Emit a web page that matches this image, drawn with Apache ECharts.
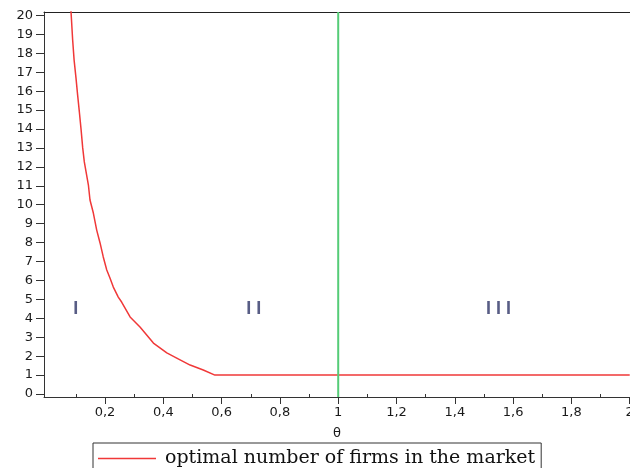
<!DOCTYPE html>
<html>
<head>
<meta charset="utf-8">
<script src="https://cdn.jsdelivr.net/npm/echarts@6/dist/echarts.min.js"></script>
<style>html,body{margin:0;padding:0;background:#fff}#c{width:630px;height:468px}</style>
</head>
<body>
<div id="c"></div>
<script>
// Data
var thetaValues = [0.083, 0.089, 0.094, 0.1005, 0.106, 0.112, 0.118, 0.1235, 0.129, 0.135, 0.143, 0.1485, 0.160, 0.1715, 0.183, 0.194, 0.206, 0.217, 0.2285, 0.2455, 0.257, 0.286, 0.320, 0.343, 0.366, 0.412, 0.446, 0.492, 0.537, 0.577, 2.0];
var firmsValues = [20.3, 18.7, 17.64, 16.69, 15.8, 14.9, 13.95, 13.0, 12.26, 11.73, 11.04, 10.25, 9.56, 8.66, 7.98, 7.24, 6.55, 6.13, 5.65, 5.12, 4.86, 4.07, 3.54, 3.12, 2.69, 2.17, 1.9, 1.53, 1.27, 1.0, 1.0];
var thresholdTheta = 1;
var regionNames = ['I', 'II', 'III'];
var regionTheta = [0.10, 0.71, 1.55];
var regionLevel = [4.5, 4.5, 4.5];
var xMajorTicks = [0.2, 0.4, 0.6, 0.8, 1, 1.2, 1.4, 1.6, 1.8, 2];
var xMinorTicks = [0.1, 0.3, 0.5, 0.7, 0.9, 1.1, 1.3, 1.5, 1.7, 1.9];
var yTicks = [0,1,2,3,4,5,6,7,8,9,10,11,12,13,14,15,16,17,18,19,20];
var seriesName = 'optimal number of firms in the market';
var xName = 'θ';

var X_MIN = -0.0093, X_MAX = 2.001, Y_MIN = -0.158, Y_MAX = 20.18;
var tickFont = {fontFamily: 'DejaVu Sans', fontSize: 13, color: '#1a1a1a'};

var curve = thetaValues.map(function (t, i) { return [t, firmsValues[i]]; });
var greenLine = [[thresholdTheta, Y_MIN], [thresholdTheta, Y_MAX]];
var regionData = regionNames.map(function (n, i) { return {name: n, value: [regionTheta[i], regionLevel[i]]}; });

var chart = echarts.init(document.getElementById('c'), null, {renderer: 'canvas'});
chart.setOption({
  animation: false,
  backgroundColor: '#ffffff',
  grid: {left: 44, right: 0, top: 12, bottom: 71, outerBoundsMode: 'none', containLabel: false},
  legend: {
    data: [{name: seriesName, icon: 'rect'}],
    left: 93, top: 443,
    padding: [6, 6, 7, 5],
    itemWidth: 58, itemHeight: 1.5,
    borderColor: '#333', borderWidth: 1,
    textStyle: {fontFamily: 'DejaVu Serif', fontSize: 19, color: '#111', padding: [0, 0, 0, 4]}
  },
  xAxis: [
    {
      type: 'value', min: X_MIN, max: X_MAX, position: 'bottom',
      name: xName, nameLocation: 'middle', nameGap: 30,
      nameTextStyle: {fontFamily: 'DejaVu Sans', fontSize: 13, color: '#1a1a1a'},
      axisLine: {show: true, onZero: false, lineStyle: {color: '#333', width: 1}},
      axisTick: {show: true, length: 7, customValues: xMajorTicks, lineStyle: {color: '#333'}},
      axisLabel: Object.assign({show: true, margin: 9, customValues: xMajorTicks,
        formatter: function (v) { return String(Math.round(v * 10) / 10).replace('.', ','); }}, tickFont),
      splitLine: {show: false}
    },
    {
      type: 'value', min: X_MIN, max: X_MAX, position: 'bottom', offset: 0,
      axisLine: {show: false},
      axisTick: {show: true, length: 4, customValues: xMinorTicks, lineStyle: {color: '#333'}},
      axisLabel: {show: false},
      splitLine: {show: false}
    },
    {
      type: 'value', min: X_MIN, max: X_MAX, position: 'top',
      axisLine: {show: true, onZero: false, lineStyle: {color: '#222', width: 1}},
      axisTick: {show: false}, axisLabel: {show: false}, splitLine: {show: false}
    }
  ],
  yAxis: {
    type: 'value', min: Y_MIN, max: Y_MAX,
    axisLine: {show: true, onZero: false, lineStyle: {color: '#333', width: 1}},
    axisTick: {show: true, length: 8, customValues: yTicks, lineStyle: {color: '#333'}},
    axisLabel: Object.assign({show: true, margin: 11, customValues: yTicks}, tickFont),
    splitLine: {show: false}
  },
  series: [
    {
      name: seriesName, type: 'line', data: curve, symbol: 'none', showSymbol: false, clip: true,
      lineStyle: {color: '#f03838', width: 1.5}, itemStyle: {color: '#f03838'}, z: 3
    },
    {
      name: 'threshold', type: 'line', data: greenLine, symbol: 'none', clip: true,
      lineStyle: {color: '#55cc77', width: 2}, z: 4
    },
    {
      name: 'regions', type: 'scatter', data: regionData, symbolSize: 0, silent: true,
      label: {
        show: true, position: 'inside',
        formatter: function (p) { return p.name.split('').join(' '); },
        fontFamily: 'Liberation Sans', fontWeight: 'bold', fontSize: 18, color: '#2e3466'
      }
    }
  ]
});
</script>
</body>
</html>
